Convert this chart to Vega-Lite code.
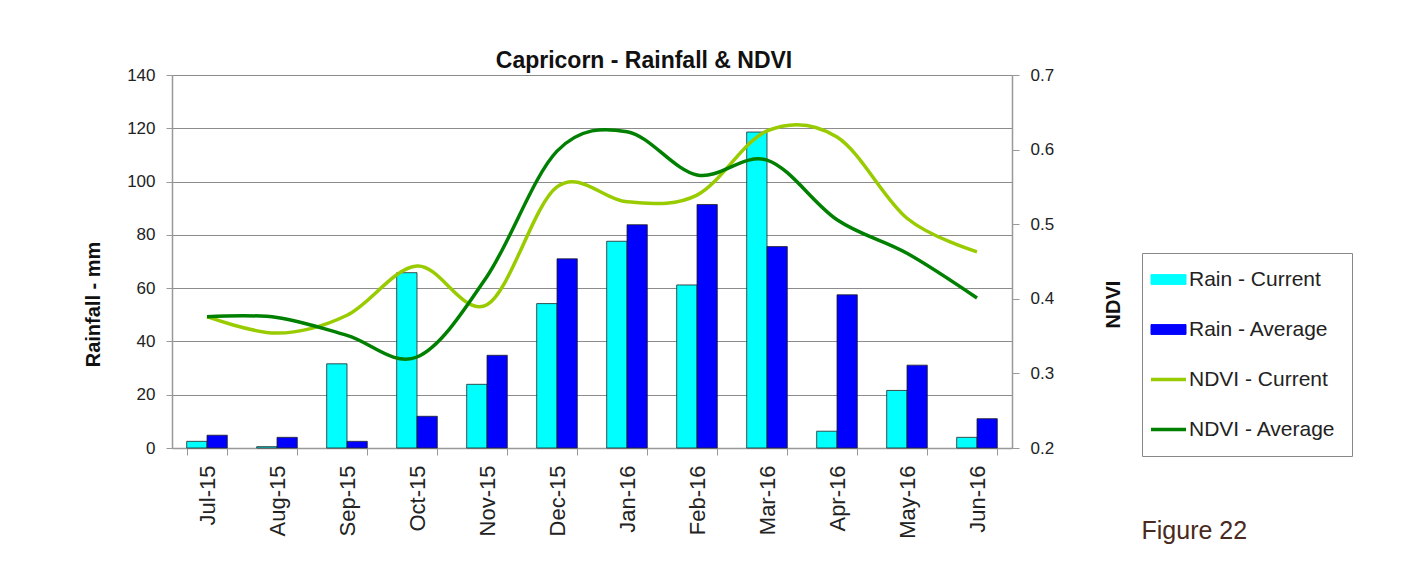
{
  "$schema": "https://vega.github.io/schema/vega-lite/v6.json",
  "width": 840,
  "height": 373,
  "autosize": {"type": "none"},
  "padding": {"left": 172, "top": 75, "right": 400, "bottom": 118},
  "background": "white",
  "config": {"font": "Liberation Sans", "view": {"stroke": null}},
  "title": {"text": "Capricorn - Rainfall & NDVI", "fontSize": 23, "fontWeight": "bold", "color": "#111", "anchor": "middle", "frame": "group", "dx": 52, "offset": -7},
  "data": {"values": [
    {"month": "Jul-15", "series": "Rain - Current", "type": "rain", "value": 2.5},
    {"month": "Aug-15", "series": "Rain - Current", "type": "rain", "value": 0.5},
    {"month": "Sep-15", "series": "Rain - Current", "type": "rain", "value": 31.6},
    {"month": "Oct-15", "series": "Rain - Current", "type": "rain", "value": 65.8},
    {"month": "Nov-15", "series": "Rain - Current", "type": "rain", "value": 23.9},
    {"month": "Dec-15", "series": "Rain - Current", "type": "rain", "value": 54.2},
    {"month": "Jan-16", "series": "Rain - Current", "type": "rain", "value": 77.6},
    {"month": "Feb-16", "series": "Rain - Current", "type": "rain", "value": 61.2},
    {"month": "Mar-16", "series": "Rain - Current", "type": "rain", "value": 118.6},
    {"month": "Apr-16", "series": "Rain - Current", "type": "rain", "value": 6.3},
    {"month": "May-16", "series": "Rain - Current", "type": "rain", "value": 21.6},
    {"month": "Jun-16", "series": "Rain - Current", "type": "rain", "value": 4.0},
    {"month": "Jul-15", "series": "Rain - Average", "type": "rain", "value": 4.8},
    {"month": "Aug-15", "series": "Rain - Average", "type": "rain", "value": 4.0},
    {"month": "Sep-15", "series": "Rain - Average", "type": "rain", "value": 2.5},
    {"month": "Oct-15", "series": "Rain - Average", "type": "rain", "value": 11.9},
    {"month": "Nov-15", "series": "Rain - Average", "type": "rain", "value": 34.8},
    {"month": "Dec-15", "series": "Rain - Average", "type": "rain", "value": 71.0},
    {"month": "Jan-16", "series": "Rain - Average", "type": "rain", "value": 83.8},
    {"month": "Feb-16", "series": "Rain - Average", "type": "rain", "value": 91.4},
    {"month": "Mar-16", "series": "Rain - Average", "type": "rain", "value": 75.6},
    {"month": "Apr-16", "series": "Rain - Average", "type": "rain", "value": 57.5},
    {"month": "May-16", "series": "Rain - Average", "type": "rain", "value": 31.1},
    {"month": "Jun-16", "series": "Rain - Average", "type": "rain", "value": 11.0},
    {"month": "Jul-15", "series": "NDVI - Current", "type": "ndvi", "value": 0.376},
    {"month": "Aug-15", "series": "NDVI - Current", "type": "ndvi", "value": 0.354},
    {"month": "Sep-15", "series": "NDVI - Current", "type": "ndvi", "value": 0.378},
    {"month": "Oct-15", "series": "NDVI - Current", "type": "ndvi", "value": 0.444},
    {"month": "Nov-15", "series": "NDVI - Current", "type": "ndvi", "value": 0.392},
    {"month": "Dec-15", "series": "NDVI - Current", "type": "ndvi", "value": 0.550},
    {"month": "Jan-16", "series": "NDVI - Current", "type": "ndvi", "value": 0.530},
    {"month": "Feb-16", "series": "NDVI - Current", "type": "ndvi", "value": 0.539},
    {"month": "Mar-16", "series": "NDVI - Current", "type": "ndvi", "value": 0.625},
    {"month": "Apr-16", "series": "NDVI - Current", "type": "ndvi", "value": 0.617},
    {"month": "May-16", "series": "NDVI - Current", "type": "ndvi", "value": 0.508},
    {"month": "Jun-16", "series": "NDVI - Current", "type": "ndvi", "value": 0.463},
    {"month": "Jul-15", "series": "NDVI - Average", "type": "ndvi", "value": 0.376},
    {"month": "Aug-15", "series": "NDVI - Average", "type": "ndvi", "value": 0.375},
    {"month": "Sep-15", "series": "NDVI - Average", "type": "ndvi", "value": 0.351},
    {"month": "Oct-15", "series": "NDVI - Average", "type": "ndvi", "value": 0.322},
    {"month": "Nov-15", "series": "NDVI - Average", "type": "ndvi", "value": 0.430},
    {"month": "Dec-15", "series": "NDVI - Average", "type": "ndvi", "value": 0.598},
    {"month": "Jan-16", "series": "NDVI - Average", "type": "ndvi", "value": 0.624},
    {"month": "Feb-16", "series": "NDVI - Average", "type": "ndvi", "value": 0.566},
    {"month": "Mar-16", "series": "NDVI - Average", "type": "ndvi", "value": 0.586},
    {"month": "Apr-16", "series": "NDVI - Average", "type": "ndvi", "value": 0.506},
    {"month": "May-16", "series": "NDVI - Average", "type": "ndvi", "value": 0.461},
    {"month": "Jun-16", "series": "NDVI - Average", "type": "ndvi", "value": 0.401}
  ]},
  "encoding": {
    "x": {
      "field": "month", "type": "nominal",
      "sort": ["Jul-15", "Aug-15", "Sep-15", "Oct-15", "Nov-15", "Dec-15", "Jan-16", "Feb-16", "Mar-16", "Apr-16", "May-16", "Jun-16"],
      "scale": {"paddingInner": 0.42, "paddingOuter": 0.21},
      "axis": {
        "tickBand": "extent", "tickSize": 7, "tickColor": "#999", "domainColor": "#999", "domainWidth": 1.5,
        "labelAngle": -90, "labelFontSize": 22, "labelColor": "#222", "labelPadding": 10,
        "grid": false,
        "title": "Figure 22", "titleX": 969, "titleY": 90, "titleAlign": "left", "titleBaseline": "alphabetic",
        "titleFontSize": 25, "titleFontWeight": "normal", "titleColor": "#4a2a20"
      }
    }
  },
  "layer": [
    {
      "transform": [{"filter": "datum.type == 'rain'"}],
      "mark": {"type": "bar", "stroke": "#222", "strokeWidth": 0.8},
      "encoding": {
        "xOffset": {"field": "series", "type": "nominal", "sort": ["Rain - Current", "Rain - Average"], "scale": {"paddingInner": 0, "paddingOuter": 0}},
        "y": {
          "field": "value", "type": "quantitative",
          "scale": {"domain": [0, 140], "nice": false},
          "axis": {
            "orient": "left", "values": [0, 20, 40, 60, 80, 100, 120, 140],
            "grid": true, "gridColor": "#8c8c8c", "gridWidth": 1,
            "tickColor": "#999", "tickSize": 6, "domainColor": "#999", "domainWidth": 1.5,
            "labelFontSize": 17, "labelColor": "#222", "labelPadding": 11,
            "title": "Rainfall - mm", "titleFontSize": 20, "titleFontWeight": "bold", "titleColor": "#111",
            "titleX": -79, "titleY": 229, "titleAngle": -90, "titleAlign": "center", "titleBaseline": "middle"
          }
        },
        "fill": {
          "field": "series", "type": "nominal",
          "scale": {"domain": ["Rain - Current", "Rain - Average"], "range": ["#00FFFF", "#0000FF"]},
          "legend": null
        }
      }
    },
    {
      "transform": [{"filter": "datum.type == 'ndvi'"}],
      "mark": {"type": "line", "interpolate": "cardinal", "strokeWidth": 3.5},
      "encoding": {
        "y": {
          "field": "value", "type": "quantitative",
          "scale": {"domain": [0.2, 0.7], "nice": false, "zero": false},
          "axis": {
            "orient": "right", "values": [0.2, 0.3, 0.4, 0.5, 0.6, 0.7], "format": ".1f",
            "grid": false, "tickColor": "#999", "tickSize": 7, "domainColor": "#999", "domainWidth": 1.5,
            "labelFontSize": 17, "labelColor": "#222", "labelPadding": 11,
            "title": "NDVI", "titleFontSize": 20, "titleFontWeight": "bold", "titleColor": "#111",
            "titleX": 101, "titleY": 229, "titleAngle": -90, "titleAlign": "center", "titleBaseline": "middle"
          }
        },
        "stroke": {
          "field": "series", "type": "nominal",
          "scale": {"domain": ["Rain - Current", "Rain - Average", "NDVI - Current", "NDVI - Average"], "range": ["#00FFFF", "#0000FF", "#99CC00", "#008000"]},
          "legend": {
            "orient": "none", "legendX": 970, "legendY": 178, "title": null,
            "padding": 16, "labelOffset": 10, "labelFontSize": 21, "labelColor": "#222",
            "rowPadding": 28, "strokeColor": "#888", "fillColor": "white",
            "symbolSize": 1225, "symbolType": "stroke", "symbolStrokeWidth": 3.5,
            "encode": {
              "symbols": {
                "update": {
                  "shape": {"signal": "datum.value == 'Rain - Current' || datum.value == 'Rain - Average' ? 'M-1,-0.28H1V0.28H-1Z' : 'stroke'"},
                  "fill": {"signal": "datum.value == 'Rain - Current' ? '#00FFFF' : datum.value == 'Rain - Average' ? '#0000FF' : 'transparent'"},
                  "strokeWidth": {"signal": "datum.value == 'Rain - Current' || datum.value == 'Rain - Average' ? 1 : 3.5"}
                }
              }
            }
          }
        }
      }
    }
  ],
  "resolve": {"scale": {"y": "independent"}}
}
